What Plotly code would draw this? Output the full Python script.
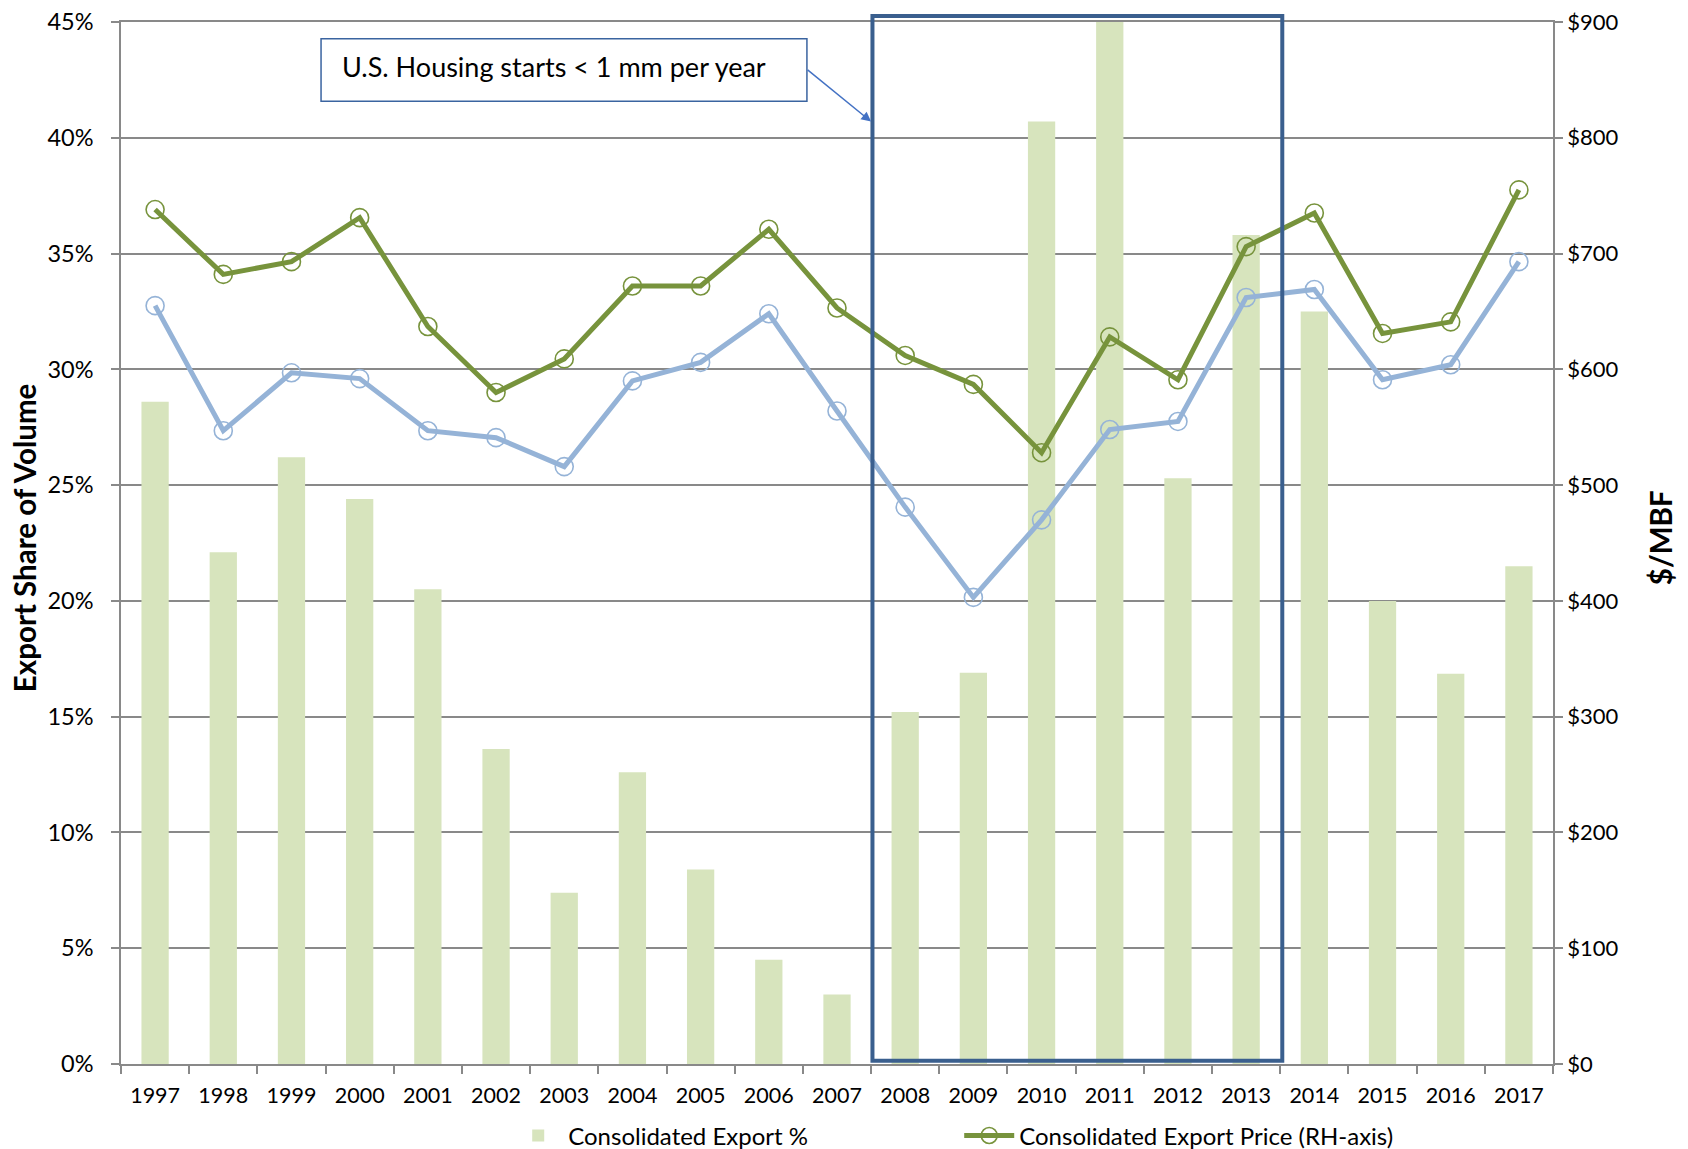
import plotly.graph_objects as go

years = [str(y) for y in range(1997, 2018)]
export_pct = [28.6, 22.1, 26.2, 24.4, 20.5, 13.6, 7.4, 12.6, 8.4, 4.5, 3.0,
              15.2, 16.9, 40.7, 45.0, 25.3, 35.8, 32.5, 20.0, 16.85, 21.5]
export_price = [738, 682, 693, 731, 637, 580, 609, 672, 672, 721, 653,
                612, 587, 528, 628, 591, 706, 735, 631, 641, 755]
other_price = [655, 547, 597, 592, 547, 541, 516, 590, 606, 648, 564,
               481, 403, 470, 548, 555, 662, 669, 591, 604, 693]

left_ticks = list(range(0, 50, 5))
right_ticks = list(range(0, 1000, 100))

FONT = "Lato, 'Open Sans', sans-serif"
GRID = "#898989"

fig = go.Figure()
fig.add_trace(go.Bar(
    x=years, y=export_pct, name="Consolidated Export %",
    marker=dict(color="#D7E4BD", line=dict(width=0)), width=0.4, yaxis="y"))
fig.add_trace(go.Scatter(
    x=years, y=other_price, mode="lines+markers", showlegend=False,
    line=dict(color="#95B3D7", width=5),
    marker=dict(symbol="circle-open", size=18, color="#95B3D7", line=dict(width=1.6)),
    yaxis="y2"))
fig.add_trace(go.Scatter(
    x=years, y=export_price, mode="lines+markers",
    name="Consolidated Export Price (RH-axis)",
    line=dict(color="#77933C", width=5),
    marker=dict(symbol="circle-open", size=18, color="#77933C", line=dict(width=1.6)),
    yaxis="y2"))

# page body has an 8px default margin, so the figure is 8px smaller and margins shifted
fig.update_layout(
    width=1680, height=1141,
    margin=dict(l=113, r=135, t=14, b=85, autoexpand=False),
    plot_bgcolor="white", paper_bgcolor="white",
    font=dict(family=FONT, size=20, color="black"),
    bargap=0.6,
    xaxis=dict(type="category", range=[-0.5, 20.5], showline=True, linecolor=GRID,
               linewidth=1.5, mirror=True, ticks="outside", tickson="boundaries",
               ticklen=8, tickcolor=GRID, tickwidth=1.5, showgrid=False,
               tickfont=dict(size=21.5), ticklabelstandoff=11),
    yaxis=dict(range=[0, 45], tickvals=left_ticks,
               ticktext=[f"{v}%" for v in left_ticks],
               showgrid=True, gridcolor=GRID, gridwidth=1.5,
               showline=True, linecolor=GRID, linewidth=1.5,
               ticks="outside", ticklen=8, tickcolor=GRID, tickwidth=1.5,
               zeroline=False, tickfont=dict(size=23.5), ticklabelstandoff=13,
               ticklabeloverflow="allow"),
    yaxis2=dict(range=[0, 900], tickvals=right_ticks,
                ticktext=[f"${v}" for v in right_ticks],
                overlaying="y", side="right", showgrid=False,
                showline=True, linecolor=GRID, linewidth=1.5,
                ticks="outside", ticklen=8, tickcolor=GRID, tickwidth=1.5,
                zeroline=False, tickfont=dict(size=22), ticklabelstandoff=0,
                ticklabeloverflow="allow"),
    legend=dict(orientation="h", x=0.2704, xanchor="left", y=-0.069, yanchor="middle",
                font=dict(size=24), itemwidth=50, entrywidth=386,
                entrywidthmode="pixels", bgcolor="rgba(0,0,0,0)",
                traceorder="normal"),
    showlegend=True,
)

# highlighted period box (2008-2013)
fig.add_shape(type="rect", xref="x", yref="paper",
              x0=10.52, x1=16.53, y0=0.003, y1=1.0058,
              line=dict(color="#3A5F8E", width=4), fillcolor="rgba(0,0,0,0)",
              layer="above")

# callout text box
fig.add_shape(type="rect", xref="paper", yref="paper",
              x0=0.1397, x1=0.479, y0=0.924, y1=0.9839,
              line=dict(color="#3A64A0", width=1.5), fillcolor="white", layer="above")
fig.add_annotation(xref="paper", yref="paper", x=0.1529, y=0.957,
                   text="U.S. Housing starts < 1 mm per year", showarrow=False,
                   font=dict(size=27, family=FONT),
                   xanchor="left", yanchor="middle")
# arrow
fig.add_annotation(xref="x", yref="paper", x=10.5, y=0.9044, text="",
                   showarrow=True, ax=-65, ay=-53, arrowhead=2, arrowsize=1.3,
                   arrowwidth=1.5, arrowcolor="#4472C4")

# axis titles
fig.add_annotation(xref="paper", yref="paper", x=-0.0675, y=0.505, xanchor="center",
                   yanchor="middle", text="<b>Export Share of Volume</b>",
                   textangle=-90, showarrow=False, font=dict(size=29.5, family=FONT))
fig.add_annotation(xref="paper", yref="paper", x=1.075, y=0.505, xanchor="center",
                   yanchor="middle", text="<b>$/MBF</b>",
                   textangle=-90, showarrow=False, font=dict(size=29.5, family=FONT))

fig.write_html("out.html")
